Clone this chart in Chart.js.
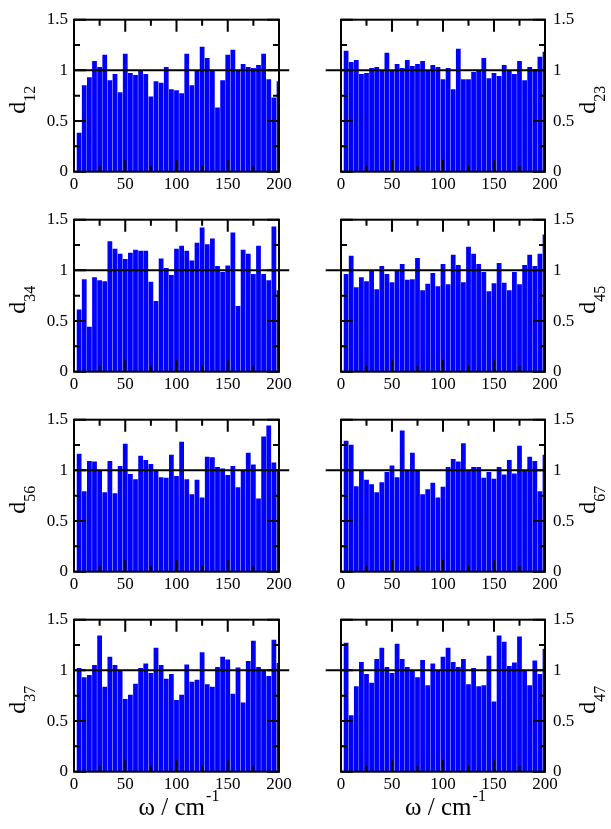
<!DOCTYPE html>
<html>
<head>
<meta charset="utf-8">
<script src="https://cdn.jsdelivr.net/npm/chart.js@4.4.1/dist/chart.umd.min.js"></script>
<style>
  html, body { margin: 0; padding: 0; background: #fff; }
  #wrap { position: relative; width: 611px; height: 829px; overflow: hidden; }
  #wrap canvas { position: absolute; }
</style>
</head>
<body>
<div id="wrap"></div>
<script>
// Frequency grid (cm^-1), one bar per 5 cm^-1
const omega = [5, 10, 15, 20, 25, 30, 35, 40, 45, 50,
               55, 60, 65, 70, 75, 80, 85, 90, 95, 100,
               105, 110, 115, 120, 125, 130, 135, 140, 145, 150,
               155, 160, 165, 170, 175, 180, 185, 190, 195, 200];

const d12 = [0.38, 0.85, 0.93, 1.09, 1.03, 1.15, 0.90, 0.96, 0.78, 1.16,
             0.97, 0.95, 1.00, 0.96, 0.74, 0.89, 0.875, 1.03, 0.81, 0.80,
             0.77, 1.16, 0.85, 1.00, 1.23, 1.12, 1.00, 0.63, 0.90, 1.15,
             1.20, 1.00, 1.06, 1.03, 1.02, 1.05, 1.16, 0.91, 0.73, 0.89];

const d23 = [1.19, 1.08, 1.10, 0.96, 0.97, 1.02, 1.03, 1.00, 1.17, 0.99,
             1.06, 1.02, 1.10, 1.04, 1.06, 1.09, 1.00, 1.05, 1.03, 0.91,
             1.02, 0.81, 1.21, 0.91, 0.91, 0.98, 1.00, 1.12, 0.92, 0.97,
             0.94, 1.05, 1.00, 0.96, 1.09, 0.90, 1.03, 1.00, 1.13, 1.18];

const d34 = [0.61, 0.91, 0.44, 0.93, 0.90, 0.89, 1.285, 1.21, 1.16, 1.11,
             1.17, 1.20, 1.19, 1.19, 0.885, 0.695, 1.115, 1.02, 0.95, 1.21,
             1.24, 1.19, 1.095, 1.27, 1.42, 1.255, 1.31, 1.04, 0.98, 1.045,
             1.37, 0.645, 1.20, 1.16, 0.96, 1.24, 0.96, 0.90, 1.43, 0.80];

const d45 = [0.96, 1.14, 0.83, 0.93, 0.89, 0.99, 0.81, 1.04, 0.96, 0.88,
             1.00, 1.06, 0.905, 0.91, 1.12, 0.80, 0.865, 0.97, 0.84, 1.06,
             0.86, 1.15, 1.05, 0.88, 1.23, 1.16, 1.06, 0.98, 0.79, 0.87,
             1.07, 0.875, 0.80, 0.98, 0.86, 1.05, 1.15, 1.04, 1.16, 1.35];

const d56 = [1.16, 0.79, 1.09, 1.085, 1.00, 0.78, 1.09, 0.77, 1.04, 1.26,
             0.96, 0.91, 1.14, 1.10, 1.06, 1.00, 0.93, 0.925, 1.15, 0.94,
             1.28, 0.91, 0.76, 0.905, 0.73, 1.13, 1.125, 1.03, 1.015, 0.95,
             1.04, 0.83, 1.00, 1.17, 1.055, 0.72, 1.33, 1.44, 1.075, 1.00];

const d67 = [1.29, 1.25, 0.84, 1.00, 0.905, 0.86, 0.78, 0.88, 0.98, 1.045,
             0.93, 1.39, 1.00, 1.17, 1.00, 0.76, 0.81, 0.875, 0.73, 0.835,
             1.03, 1.11, 1.085, 1.265, 1.00, 1.03, 1.03, 0.925, 0.98, 0.915,
             1.03, 0.955, 1.10, 0.965, 1.24, 1.00, 1.13, 1.09, 0.79, 1.15];

const d37 = [1.02, 0.93, 0.95, 1.05, 1.34, 0.835, 1.13, 1.05, 0.995, 0.715,
             0.755, 0.865, 1.02, 1.065, 0.97, 1.22, 1.05, 0.915, 0.96, 0.705,
             0.755, 1.055, 0.885, 0.905, 1.175, 0.86, 0.835, 1.03, 1.13, 1.105,
             0.765, 1.025, 0.68, 1.09, 1.29, 1.03, 1.005, 0.94, 1.30, 1.07];

const d47 = [1.27, 0.555, 0.84, 1.08, 0.96, 0.875, 1.11, 1.22, 1.03, 0.97,
             1.26, 1.11, 1.03, 0.99, 0.93, 1.10, 0.85, 1.065, 1.00, 1.13,
             1.22, 1.08, 1.03, 1.11, 0.86, 1.02, 0.84, 0.85, 1.14, 0.69,
             1.34, 1.28, 1.04, 1.075, 1.33, 0.99, 0.85, 1.095, 0.96, 1.21];

// Axis ticks: labelled values and all tick-mark positions
const xLabelValues = [0, 50, 100, 150, 200];
const yLabelValues = [0, 0.5, 1, 1.5];
const xTickValues = [0, 25, 50, 75, 100, 125, 150, 175, 200];
const yTickValues = [0, 0.25, 0.5, 0.75, 1, 1.25, 1.5];
const referenceLevel = 1;

// Panel layout
const panels = [
  { sub: '12', values: d12, col: 0, row: 0 },
  { sub: '23', values: d23, col: 1, row: 0 },
  { sub: '34', values: d34, col: 0, row: 1 },
  { sub: '45', values: d45, col: 1, row: 1 },
  { sub: '56', values: d56, col: 0, row: 2 },
  { sub: '67', values: d67, col: 1, row: 2 },
  { sub: '37', values: d37, col: 0, row: 3 },
  { sub: '47', values: d47, col: 1, row: 3 }
];

const SERIF = '"Liberation Serif", "Times New Roman", serif';
const wrap = document.getElementById('wrap');

// Box frame, inward tick marks and the typeset axis titles
const framePlugin = {
  id: 'frame',
  afterDatasetsDraw(chart) {
    const { ctx, chartArea: a, scales: { x, y } } = chart;
    ctx.save();
    ctx.strokeStyle = '#000';
    ctx.lineWidth = 2;
    ctx.lineCap = 'butt';
    ctx.beginPath();
    yTickValues.forEach(v => {
      const py = y.getPixelForValue(v);
      const len = yLabelValues.includes(v) ? 12 : 6;
      ctx.moveTo(a.left, py); ctx.lineTo(a.left + len, py);
      ctx.moveTo(a.right, py); ctx.lineTo(a.right - len, py);
    });
    xTickValues.forEach(v => {
      const px = x.getPixelForValue(v);
      const len = xLabelValues.includes(v) ? 12 : 6;
      ctx.moveTo(px, a.bottom); ctx.lineTo(px, a.bottom - len);
      ctx.moveTo(px, a.top); ctx.lineTo(px, a.top + len);
    });
    ctx.stroke();
    ctx.strokeRect(a.left, a.top, a.right - a.left, a.bottom - a.top);
    ctx.restore();
  },
  afterDraw(chart, args, opts) {
    const { ctx, chartArea: a } = chart;
    ctx.save();
    ctx.fillStyle = '#000';
    ctx.textAlign = 'left';
    ctx.textBaseline = 'alphabetic';
    // y title: "d" with a lowered subscript, rotated
    const big = '24px ' + SERIF, small = '16px ' + SERIF;
    ctx.font = big; const wb = ctx.measureText('d').width;
    ctx.font = small; const ws = ctx.measureText(opts.sub).width;
    const cx = opts.col === 0 ? a.left - 49 : a.right + 50;
    const cy = (a.top + a.bottom) / 2 + 4;
    ctx.save();
    ctx.translate(cx, cy);
    ctx.rotate(-Math.PI / 2);
    const start = -(wb + ws) / 2;
    ctx.font = big; ctx.fillText('d', start, 0);
    ctx.font = small; ctx.fillText(opts.sub, start + wb, 10);
    ctx.restore();
    // x title on the bottom row: "ω / cm" with superscript "-1"
    if (opts.xTitle) {
      const main = 'ω / cm', sup = '-1';
      const fMain = '25px ' + SERIF, fSup = '16px ' + SERIF;
      ctx.font = fMain; const wm = ctx.measureText(main).width;
      ctx.font = fSup; const wsup = ctx.measureText(sup).width;
      const mid = (a.left + a.right) / 2 + 2;
      const x0 = mid - (wm + wsup) / 2;
      const base = a.bottom + 43;
      ctx.font = fMain; ctx.fillText(main, x0, base);
      ctx.font = fSup; ctx.fillText(sup, x0 + wm + 1, base - 14);
    }
    ctx.restore();
  }
};

function makePanel(p) {
  const canvas = document.createElement('canvas');
  const left = p.col === 0 ? 0 : 305;
  const width = p.col === 0 ? 305 : 306;
  const top = p.row * 200;
  const height = p.row === 3 ? 229 : 200;
  canvas.width = width; canvas.height = height;
  canvas.style.left = left + 'px'; canvas.style.top = top + 'px';
  canvas.style.width = width + 'px'; canvas.style.height = height + 'px';
  wrap.appendChild(canvas);

  const areaLeft = p.col === 0 ? 74 : 36;
  const areaRight = p.col === 0 ? 279 : 240;
  const areaTop = 19.7, areaBottom = 171.7;
  const xAxisH = 28;
  const yAxisW = p.col === 0 ? areaLeft : width - areaRight;

  const barData = omega.map((w, i) => ({ x: w, y: p.values[i] }));
  const lineData = p.col === 0
    ? [{ x: 0, y: referenceLevel }, { x: 210, y: referenceLevel }]
    : [{ x: -15, y: referenceLevel }, { x: 200, y: referenceLevel }];

  new Chart(canvas, {
    type: 'bar',
    data: {
      datasets: [
        {
          type: 'line', data: lineData, order: 0, clip: false,
          borderColor: '#000', borderWidth: 2, pointRadius: 0, tension: 0
        },
        {
          type: 'bar', data: barData, order: 1, clip: 0,
          backgroundColor: '#0000ff', borderWidth: 0, barThickness: 4.1
        }
      ]
    },
    options: {
      responsive: false,
      animation: false,
      devicePixelRatio: 1,
      events: [],
      layout: {
        padding: {
          top: areaTop,
          left: p.col === 0 ? 0 : areaLeft,
          right: p.col === 0 ? width - areaRight : 0,
          bottom: height - areaBottom - xAxisH
        }
      },
      plugins: {
        legend: { display: false },
        tooltip: { enabled: false },
        frame: { sub: p.sub, col: p.col, xTitle: p.row === 3 }
      },
      scales: {
        x: {
          type: 'linear', min: 0, max: 200, offset: false,
          grid: { display: false, drawTicks: false },
          border: { display: false },
          afterBuildTicks(scale) { scale.ticks = xLabelValues.map(v => ({ value: v })); },
          ticks: {
            padding: 3, maxRotation: 0, autoSkip: false,
            callback: v => String(v),
            color: '#000', font: { family: SERIF, size: 17 }
          },
          afterFit(scale) { scale.height = xAxisH; }
        },
        y: {
          position: p.col === 0 ? 'left' : 'right',
          min: 0, max: 1.5,
          grid: { display: false, drawTicks: false },
          border: { display: false },
          afterBuildTicks(scale) { scale.ticks = yLabelValues.map(v => ({ value: v })); },
          ticks: {
            padding: p.col === 0 ? 6 : 8, autoSkip: false,
            callback: v => String(v),
            color: '#000', font: { family: SERIF, size: 17 }
          },
          afterFit(scale) { scale.width = yAxisW; }
        }
      }
    },
    plugins: [framePlugin]
  });
}

panels.forEach(makePanel);
</script>
</body>
</html>
